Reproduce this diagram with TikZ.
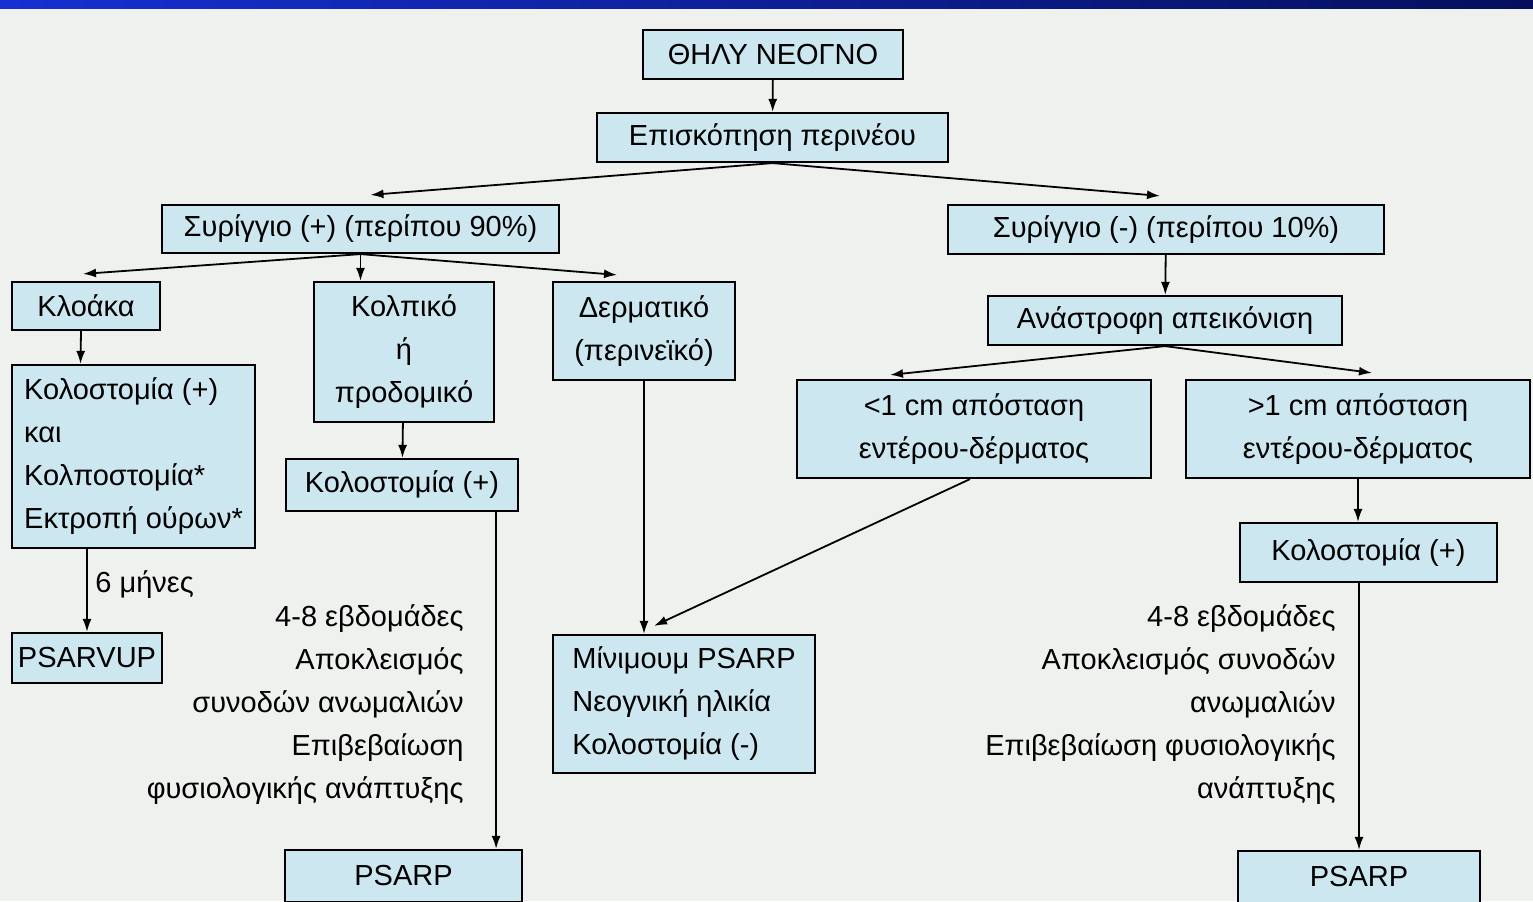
\documentclass[tikz,border=0pt]{standalone}
\usepackage{fontspec}
\setmainfont{Liberation Sans}
\usepackage{tikz}
\usetikzlibrary{positioning, arrows.meta, calc}
\definecolor{boxcolor}{HTML}{CCE7EF}
\definecolor{pagecolor}{HTML}{EFF1EF}
\definecolor{bandleft}{HTML}{1630D2}
\definecolor{bandright}{HTML}{050F5C}

\tikzset{
  flowbox/.style={draw, line width=1.1pt, fill=boxcolor, align=center, inner sep=2pt},
  leftbox/.style={flowbox, align=left},
  note/.style={align=right, inner sep=0pt},
  arr/.style={-{Latex[length=6.5pt, width=4.5pt]}, line width=0.9pt},
}

\begin{document}
\begin{tikzpicture}[x=0.5pt, y=-0.5pt, every node/.style={font=\fontsize{14.5}{21.5}\selectfont}]
        % page and top band
        \path[use as bounding box, fill=pagecolor] (0,0) rectangle (1533,901);
        \clip (0,0) rectangle (1533,901);
        \shade[left color=bandleft, right color=bandright] (0,0) rectangle (1533,8);

        % Top
        \node[flowbox, minimum width=130pt, minimum height=24.5pt] (thely) at (773,54.5) {ΘΗΛΥ ΝΕΟΓΝΟ};
        \node[flowbox, minimum width=175.5pt, minimum height=24.5pt] (episk) at (772.5,137.5) {Επισκόπηση περινέου};
        \draw[arr] (thely) -- (episk);

        % Left -- fistula (+)
        \node[flowbox, minimum width=198.5pt, minimum height=24pt] (syrP) at (360.5,229) {Συρίγγιο (+) (περίπου 90\%)};
        \node[flowbox, minimum width=74pt, minimum height=24pt] (kloaka) at (86,306) {Κλοάκα};
        \node[flowbox, minimum width=90pt, minimum height=70pt] (kolpiko) at (404,352) {Κολπικό\\ή\\προδομικό};
        \node[flowbox, minimum width=91pt, minimum height=49pt] (derma) at (644,331) {Δερματικό\\(περινεϊκό)};
        \node[leftbox, minimum width=121.5pt, minimum height=91.5pt] (kolostA) at (133.5,456.5) {Κολοστομία (+)\\και\\Κολποστομία*\\Εκτροπή ούρων*};
        \node[flowbox, minimum width=116pt, minimum height=26pt] (kolostB) at (402,485) {Κολοστομία (+)};
        \node[flowbox, minimum width=75pt, minimum height=25pt] (psarvup) at (87,658) {PSARVUP};
        \node[leftbox, minimum width=131pt, minimum height=69pt] (minimum) at (684,704) {Μίνιμουμ PSARP\\Νεογνική ηλικία\\Κολοστομία (-)};
        \node[flowbox, minimum width=118.5pt, minimum height=26pt] (psarpL) at (403.5,876) {PSARP};
        \coordinate (pL) at ([xshift=-13.5pt]psarpL.north east);

        \node[anchor=west, inner sep=0pt] (sixm) at (95,585) {6 μήνες};
        \node[note, anchor=east] (noteL) at (464,705) {4-8 εβδομάδες\\Αποκλεισμός\\συνοδών ανωμαλιών\\Επιβεβαίωση\\φυσιολογικής ανάπτυξης};

        % Right -- fistula (-)
        \node[flowbox, minimum width=218pt, minimum height=24.5pt] (syrM) at (1166,229.5) {Συρίγγιο (-) (περίπου 10\%)};
        \node[flowbox, minimum width=177pt, minimum height=24.5pt] (anastr) at (1165,320.5) {Ανάστροφη απεικόνιση};
        \node[flowbox, minimum width=177pt, minimum height=49pt] (less) at (974,429) {<1 cm απόσταση\\εντέρου-δέρματος};
        \node[flowbox, minimum width=172pt, minimum height=49pt] (more) at (1358,429) {>1 cm απόσταση\\εντέρου-δέρματος};
        \node[flowbox, minimum width=128.5pt, minimum height=29.5pt] (kolostC) at (1368.5,552.5) {Κολοστομία (+)};
        \node[flowbox, minimum width=121pt, minimum height=26pt] (psarpR) at (1359,877) {PSARP};
        \node[note, anchor=east] (noteR) at (1336,705) {4-8 εβδομάδες\\Αποκλεισμός συνοδών\\ανωμαλιών\\Επιβεβαίωση φυσιολογικής\\ανάπτυξης};

        % Connectors
        \draw[arr] (episk.south) -- ([xshift=5pt, yshift=4.5pt]syrP.north);
        \draw[arr] (episk.south) -- ([xshift=-3pt, yshift=4pt]syrM.north);
        \draw[arr] (syrP.south) -- ([xshift=-1.5pt, yshift=3.5pt]kloaka.north);
        \draw[arr] (syrP.south) -- (syrP.south |- kolpiko.north);
        \draw[arr] (syrP.south) -- ([xshift=-13.5pt, yshift=3pt]derma.north);
        \draw[arr] ([xshift=-2.5pt]kloaka.south) -- ([xshift=-26.5pt]kolostA.north);
        \draw[arr] (kolpiko) -- (kolostB);
        \draw[arr] (kolostA.south -| psarvup.north) -- (psarvup.north);
        \draw[arr] (pL |- kolostB.south) -- (pL);
        \draw[arr] (derma.south) -- (derma.south |- minimum.north);
        \draw[arr] ([xshift=-2pt]less.south) -- ([xshift=-15pt, yshift=4pt]minimum.north);
        \draw[arr] (syrM) -- (anastr);
        \draw[arr] (anastr.south) -- ([xshift=-42pt, yshift=2pt]less.north);
        \draw[arr] (anastr.south) -- ([xshift=7pt, yshift=3pt]more.north);
        \draw[arr] (more.south) -- (more.south |- kolostC.north);
        \draw[arr] (psarpR.north |- kolostC.south) -- (psarpR.north);
      \end{tikzpicture}
\end{document}
